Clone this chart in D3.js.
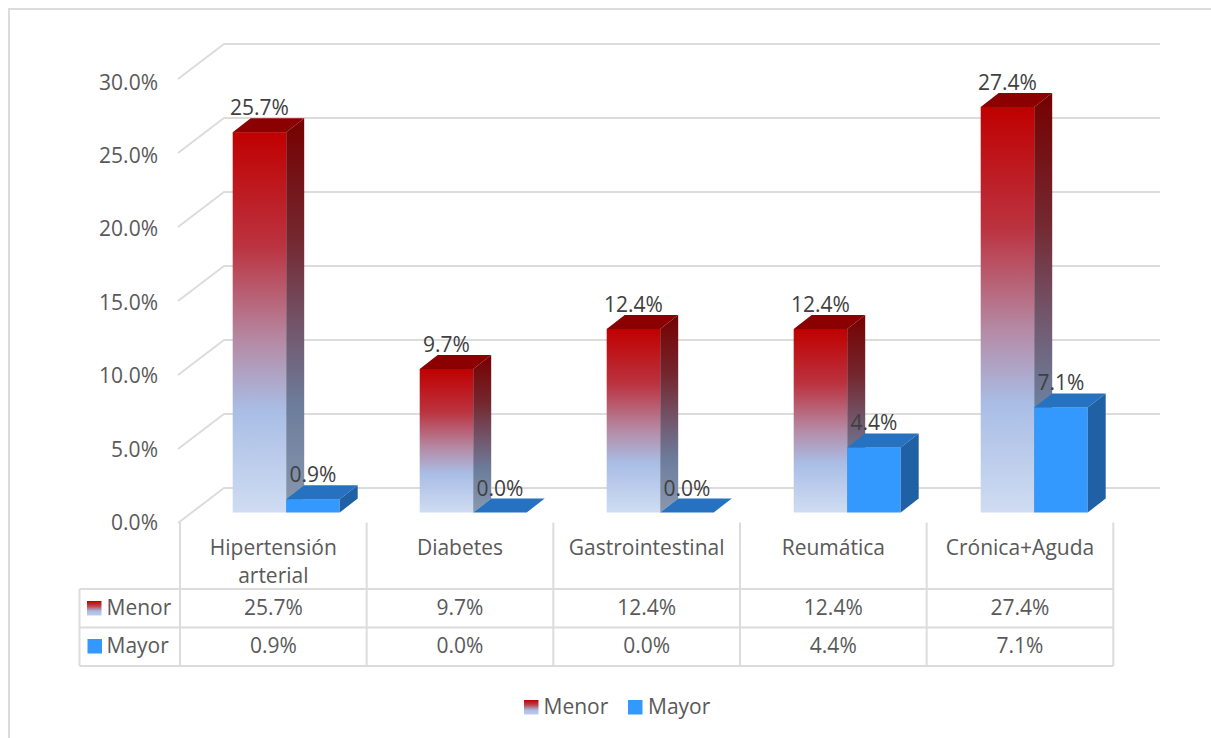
<!DOCTYPE html>
<html>
<head>
<meta charset="utf-8">
<script src="https://cdn.jsdelivr.net/npm/d3@7"></script>
<style>
html, body { margin: 0; padding: 0; background: #fff; }
svg { display: block; }
text { font-family: "Open Sans", sans-serif; }
</style>
</head>
<body>
<div id="chart"></div>
<script>
const categories = ["Hipertensión arterial", "Diabetes", "Gastrointestinal", "Reumática", "Crónica+Aguda"]
const menor = [25.7, 9.7, 12.4, 12.4, 27.4]
const mayor = [0.9, 0.0, 0.0, 4.4, 7.1]
const yTicks = [0, 5, 10, 15, 20, 25, 30]
const seriesNames = ["Menor", "Mayor"]

const width = 1211, height = 738
const fontSize = 21
const gridColor = "#dcdcdc", axisText = "#595959", labelText = "#404040"

const svg = d3.select("#chart").append("svg")
    .attr("width", width)
    .attr("height", height)

const defs = svg.append("defs")

// the red bars fade to pale blue at the bottom
function addGradient(id, stops) {
    defs.append("linearGradient")
        .attr("id", id)
        .attr("x1", 0).attr("y1", 0)
        .attr("x2", 0).attr("y2", 1)
        .selectAll("stop")
        .data(stops)
        .enter().append("stop")
        .attr("offset", d => d[0])
        .attr("stop-color", d => d[1])
}
addGradient("menor-front", [["0%", "#c00000"], ["30%", "#bb3340"], ["55%", "#b58aa5"], ["73%", "#a9bde5"], ["100%", "#cfdcf2"]])
addGradient("menor-side", [["0%", "#760000"], ["30%", "#74262e"], ["55%", "#725a70"], ["73%", "#6c7d9c"], ["100%", "#8a98ae"]])
addGradient("menor-key", [["0%", "#c00000"], ["35%", "#b9464f"], ["70%", "#a9bde5"], ["100%", "#bccdeb"]])

// outer chart frame
svg.append("rect")
    .attr("x", 9).attr("y", 9)
    .attr("width", width + 20).attr("height", height + 20)
    .attr("fill", "none")
    .attr("stroke", gridColor)
    .attr("stroke-width", 2)

// table columns
const x = d3.scaleBand()
    .domain(categories)
    .range([180, 1113.3])

// bars step a touch wider than the table columns
const xBars = d3.scaleBand()
    .domain(categories)
    .range([179.5, 1114.5])

const y = d3.scaleLinear()
    .domain([0, 30])
    .range([512.5, 68.5])

// tick labels run slightly tighter than the wall lines
const yLabel = d3.scaleLinear()
    .domain([0, 30])
    .range([522.5, 82])

const wallDy = -24.5, frontDy = 10.5, wallX = 224, frontX = 178
const barWidth = 53.5, barOffset = 53.2, depthX = 18, depthY = 14

// back wall grid and the diagonal side lines
const grid = svg.append("g")
    .attr("fill", "none")
    .attr("stroke", gridColor)
    .attr("stroke-width", 2)

yTicks.forEach(t => {
    grid.append("path")
        .attr("d", d3.line()([[frontX, y(t) + frontDy], [wallX, y(t) + wallDy], [1160, y(t) + wallDy]]))
})

// y axis labels
svg.append("g").selectAll("text")
    .data(yTicks)
    .enter().append("text")
    .attr("x", 158)
    .attr("y", d => yLabel(d))
    .attr("dy", "0.36em")
    .attr("text-anchor", "end")
    .attr("font-size", fontSize)
    .attr("fill", axisText)
    .text(d => d3.format(".1f")(d) + "%")

function drawBar(g, x0, value, front, top, side) {
    const yTop = y(value), yBase = y(0)
    g.append("rect")
        .attr("x", x0).attr("y", yTop)
        .attr("width", barWidth).attr("height", yBase - yTop)
        .attr("fill", front)
    g.append("path")
        .attr("fill", top)
        .attr("d", d3.line()([[x0, yTop], [x0 + depthX, yTop - depthY], [x0 + barWidth + depthX, yTop - depthY], [x0 + barWidth, yTop]]) + "Z")
    g.append("path")
        .attr("fill", side)
        .attr("d", d3.line()([[x0 + barWidth, yTop], [x0 + barWidth + depthX, yTop - depthY], [x0 + barWidth + depthX, yBase - depthY], [x0 + barWidth, yBase]]) + "Z")
}

const bars = svg.append("g")
categories.forEach((c, i) => {
    const x0 = xBars(c) + barOffset
    drawBar(bars, x0, menor[i], "url(#menor-front)", "#8b0000", "url(#menor-side)")
    drawBar(bars, x0 + barWidth, mayor[i], "#3399ff", "#2672c0", "#2060a5")
})

// data labels sit above the bars
const labels = svg.append("g")
    .attr("font-size", fontSize)
    .attr("fill", labelText)
    .attr("text-anchor", "middle")
categories.forEach((c, i) => {
    const x0 = xBars(c) + barOffset
    labels.append("text")
        .attr("x", x0 + barWidth / 2)
        .attr("y", y(menor[i]) - 17)
        .text(menor[i].toFixed(1) + "%")
    labels.append("text")
        .attr("x", x0 + barWidth * 1.5)
        .attr("y", y(mayor[i]) - 17)
        .text(mayor[i].toFixed(1) + "%")
})

// data table under the plot
const table = svg.append("g")
    .attr("fill", "none")
    .attr("stroke", gridColor)
    .attr("stroke-width", 2)

const tableLeft = 79.5, headTop = 522.5, row0 = 589, row1 = 627.5, row2 = 666
const tableRight = x.range()[1]

categories.forEach(c => {
    table.append("line")
        .attr("x1", x(c)).attr("x2", x(c))
        .attr("y1", headTop).attr("y2", row2)
})
table.append("line")
    .attr("x1", tableRight).attr("x2", tableRight)
    .attr("y1", headTop).attr("y2", row2)
table.append("line")
    .attr("x1", tableLeft).attr("x2", tableLeft)
    .attr("y1", row0).attr("y2", row2)
;[row0, row1, row2].forEach(r => {
    table.append("line")
        .attr("x1", tableLeft).attr("x2", tableRight)
        .attr("y1", r).attr("y2", r)
})

const tableText = svg.append("g")
    .attr("font-size", fontSize)
    .attr("fill", axisText)
    .attr("text-anchor", "middle")

categories.forEach((c, i) => {
    const cx = x(c) + x.bandwidth() / 2
    const words = c === "Hipertensión arterial" ? c.split(" ") : [c]
    words.forEach((w, j) => {
        tableText.append("text")
            .attr("x", cx)
            .attr("y", 554.5 + j * 28)
            .text(w)
    })
    tableText.append("text").attr("x", cx).attr("y", 615).text(menor[i].toFixed(1) + "%")
    tableText.append("text").attr("x", cx).attr("y", 653).text(mayor[i].toFixed(1) + "%")
})

// legend keys, in the table and at the bottom
function legendKey(xKey, yKey, xText, name, i) {
    svg.append("rect")
        .attr("x", xKey).attr("y", yKey - 14)
        .attr("width", 14.5).attr("height", 14.5)
        .attr("fill", i === 0 ? "url(#menor-key)" : "#3399ff")
    svg.append("text")
        .attr("x", xText).attr("y", yKey)
        .attr("font-size", fontSize)
        .attr("fill", axisText)
        .text(name)
}
legendKey(87, 615, 106.5, seriesNames[0], 0)
legendKey(87.5, 653, 106.5, seriesNames[1], 1)
legendKey(524, 714, 543.5, seriesNames[0], 0)
legendKey(628, 714, 648, seriesNames[1], 1)
</script>
</body>
</html>
